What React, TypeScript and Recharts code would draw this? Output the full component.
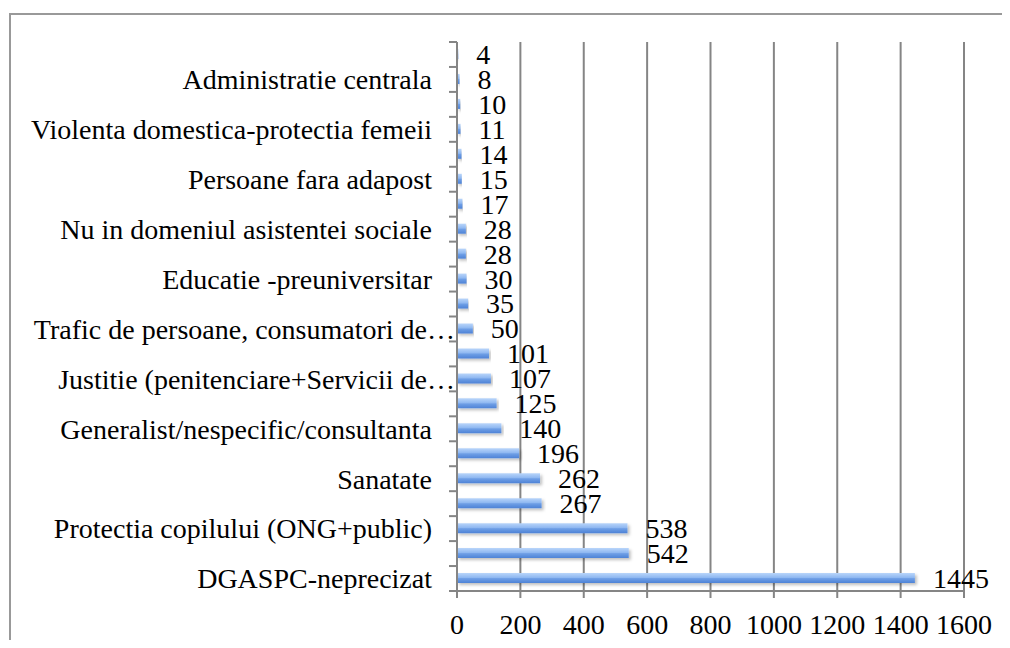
import React from 'react';
import { BarChart, Bar, XAxis, YAxis, CartesianGrid, LabelList } from 'recharts';

const categoryLabels: string[] = [
  '',
  'Administratie centrala',
  '',
  'Violenta domestica-protectia femeii',
  '',
  'Persoane fara adapost',
  '',
  'Nu in domeniul asistentei sociale',
  '',
  'Educatie -preuniversitar',
  '',
  'Trafic de persoane, consumatori de…',
  '',
  'Justitie (penitenciare+Servicii de…',
  '',
  'Generalist/nespecific/consultanta',
  '',
  'Sanatate',
  '',
  'Protectia copilului (ONG+public)',
  '',
  'DGASPC-neprecizat',
];

const seriesValues: number[] = [
  4, 8, 10, 11, 14, 15, 17, 28, 28, 30, 35, 50, 101, 107, 125, 140, 196, 262, 267, 538, 542, 1445,
];

const xTicks: number[] = [0, 200, 400, 600, 800, 1000, 1200, 1400, 1600];

const data = categoryLabels.map((label, i) => ({ key: 'c' + i, label, value: seriesValues[i] }));

const GRID = '#858585';
const FONT = 'Liberation Serif, Times New Roman, serif';
const FS = 28;
const TICK_MARGIN = 25;

function CategoryTick(props: any) {
  const { x, y, payload, index, height } = props;
  const i = typeof index === 'number' ? index : payload?.index ?? 0;
  const label = categoryLabels[i] || '';
  const n = categoryLabels.length;
  const h = Number(height);
  const half = isFinite(h) && h > 0 ? h / n / 2 : 12.5;
  const axisX = Number(x) + TICK_MARGIN;
  const yy = Number(y);
  const truncated = label.endsWith('…');
  return (
    <g>
      <path d={`M${axisX - 8},${yy - half}H${axisX}`} stroke={GRID} strokeWidth={2} fill="none" />
      {i === n - 1 && (
        <path d={`M${axisX - 8},${yy + half}H${axisX}`} stroke={GRID} strokeWidth={2} fill="none" />
      )}
      {label && (
        <text
          x={truncated ? axisX - 2 : Number(x)}
          y={yy}
          dy="0.35em"
          textAnchor="end"
          fill="#000"
          fontSize={FS}
          fontFamily={FONT}
        >
          {label}
        </text>
      )}
    </g>
  );
}

export default function App() {
  return (
    <div style={{ position: 'relative', width: 1000, height: 632, overflow: 'hidden' }}>
      <div
        style={{
          position: 'absolute',
          left: 1,
          top: 5,
          width: 1100,
          height: 800,
          border: '2px solid #999',
          boxSizing: 'border-box',
        }}
      />
      <div style={{ position: 'absolute', left: 0, top: 0 }}>
        <BarChart
          width={1000}
          height={632}
          data={data}
          layout="vertical"
          margin={{ top: 34, right: 44, bottom: 0, left: 0 }}
          style={{ fontFamily: FONT }}
        >
          <defs>
            <linearGradient id="barGrad" x1="0" y1="0" x2="0" y2="1">
              <stop offset="0%" stopColor="#b9d5fa" />
              <stop offset="45%" stopColor="#8fb8f1" />
              <stop offset="55%" stopColor="#6f9fe6" />
              <stop offset="100%" stopColor="#4d82d6" />
            </linearGradient>
            <filter id="barShadow" x="-5%" y="-50%" width="110%" height="200%">
              <feDropShadow dx="2" dy="2" stdDeviation="1.5" floodColor="#000" floodOpacity="0.25" />
            </filter>
          </defs>
          <CartesianGrid horizontal={false} stroke={GRID} strokeWidth={2} />
          <XAxis
            type="number"
            domain={[0, 1600]}
            ticks={xTicks}
            interval={0}
            height={49}
            tickSize={7}
            tickMargin={16}
            axisLine={{ stroke: GRID, strokeWidth: 2 }}
            tickLine={{ stroke: GRID, strokeWidth: 2 }}
            tick={{ fill: '#000', fontSize: FS, fontFamily: FONT }}
          />
          <YAxis
            type="category"
            dataKey="key"
            orientation="left"
            width={449}
            interval={0}
            tickSize={0}
            tickMargin={TICK_MARGIN}
            axisLine={{ stroke: GRID, strokeWidth: 2 }}
            tickLine={false}
            tick={<CategoryTick />}
          />
          <Bar
            dataKey="value"
            barSize={10}
            fill="url(#barGrad)"
            filter="url(#barShadow)"
            isAnimationActive={false}
          >
            <LabelList
              dataKey="value"
              position="right"
              offset={18}
              fill="#000"
              fontSize={FS}
              fontFamily={FONT}
            />
          </Bar>
        </BarChart>
      </div>
    </div>
  );
}
